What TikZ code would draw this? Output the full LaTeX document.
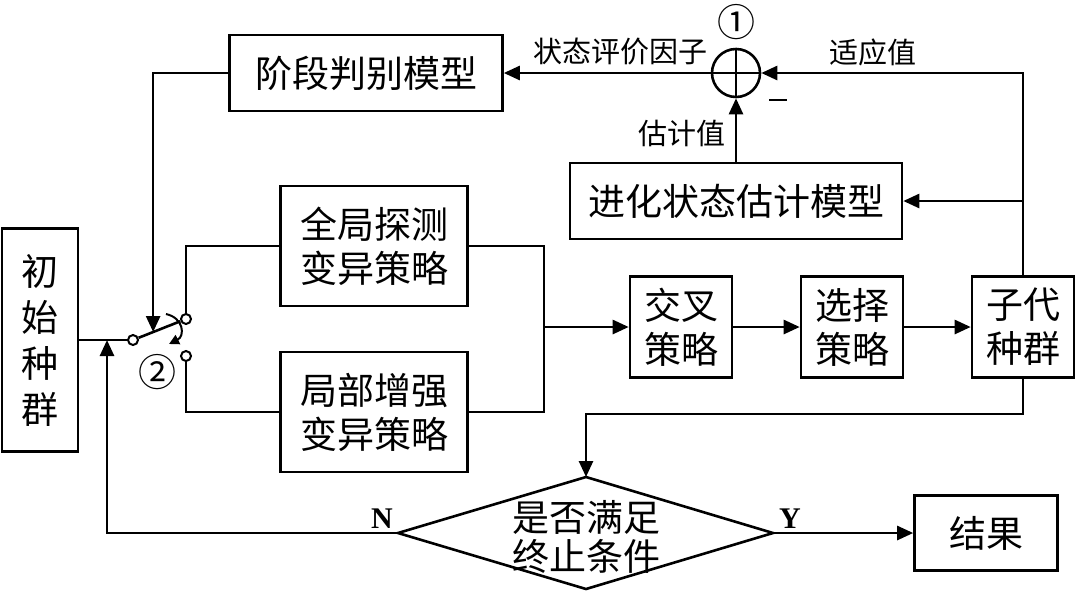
\documentclass[tikz,border=0pt]{standalone}
\usepackage{fontspec}
\setmainfont{Liberation Serif}
\newfontfamily\cjk{Noto Sans CJK SC}
\usetikzlibrary{arrows.meta,calc}

\begin{document}
\begin{tikzpicture}[x=0.5pt,y=-0.5pt,line width=1.3pt,
box/.style={draw,inner sep=0pt,align=center,font=\cjk\fontsize{18.5}{22}\selectfont},
lbl/.style={inner sep=0pt,font=\cjk\fontsize{14.5}{16}\selectfont},
dot/.style={draw,circle,fill=white,inner sep=0pt,minimum size=5pt,line width=1pt},
arr/.style={-{Triangle[length=8pt,width=7pt]}}]
\useasboundingbox (0,0) rectangle (1080,596);
\node[box,minimum width=38pt,minimum height=111.5pt,font=\cjk\fontsize{18.5}{23}\selectfont] (init) at (40,340) {初\\始\\种\\群};
\node[box,minimum width=136.5pt,minimum height=38pt] (stage) at (366,73) {阶段判别模型};
\node[box,minimum width=166pt,minimum height=38pt] (est) at (736,201) {进化状态估计模型};
\node[box,minimum width=93.5pt,minimum height=60pt] (glob) at (374,246) {全局探测\\变异策略};
\node[box,minimum width=93.5pt,minimum height=60pt] (loc) at (374,412) {局部增强\\变异策略};
\node[box,minimum width=51pt,minimum height=50.5pt] (cross) at (681,327) {交叉\\策略};
\node[box,minimum width=51pt,minimum height=50.5pt] (sel) at (852,327) {选择\\策略};
\node[box,minimum width=51pt,minimum height=50.5pt] (off) at (1023,327) {子代\\种群};
\node[box,minimum width=71.5pt,minimum height=37.5pt] (res) at (986,533) {结果};
\node[draw,circle,inner sep=0pt,minimum size=24pt] (sum) at (736,73) {};
\draw (sum.north) -- (sum.south) (sum.west) -- (sum.east);
\node[inner sep=0pt,align=center,font=\cjk\fontsize{18.5}{19.5}\selectfont] (cond) at (586,537) {是否满足\\终止条件};
\coordinate (dT) at (586,477);
\coordinate (dL) at (398,533);
\coordinate (dB) at (586,589);
\coordinate (dR) at (773,533);
\draw (dT) -- (dR) -- (dB) -- (dL) -- cycle;
\node[dot] (piv) at (133,340) {};
\node[dot] (upc) at (186,319) {};
\node[dot] (lowc) at (186,356) {};
\coordinate (bp) at ($(piv)!0.38!(upc)$);
\coordinate (mg) at (544,327);
\coordinate (jn) at (107,340);
\coordinate (ca) at (166,314);
\coordinate (cb) at (169,344);
\node[lbl] (one) at (736,22) {\fontsize{19}{19}\selectfont ①};
\node[lbl] (two) at (157,372) {\fontsize{19}{19}\selectfont ②};
\node[lbl] (fac) at (620,52) {状态评价因子};
\node[lbl] (fit) at (873,52) {适应值};
\node[lbl] (val) at (682,133) {估计值};
\node[inner sep=0pt] (minus) at (778,100) {\rule{9pt}{1.4pt}};
\node[inner sep=0pt,font=\bfseries\fontsize{15}{15}\selectfont] (nlab) at (382,519) {N};
\node[inner sep=0pt,font=\bfseries\fontsize{15}{15}\selectfont] (ylab) at (790,519) {Y};
\draw (init) -- (piv);
\draw (piv) -- (upc);
\draw (upc) |- (glob);
\draw (lowc) |- (loc);
\draw (glob) -| (mg) |- (loc);
\draw[arr] (mg) -- (cross);
\draw[arr] (cross) -- (sel);
\draw[arr] (sel) -- (off);
\draw[arr] (off) |- (sum);
\draw[arr] (off.north |- est) -- (est);
\draw[arr] (est) -- (sum);
\draw[arr] (sum) -- (stage);
\draw[arr] (stage) -| (bp);
\draw[arr] (off.south) -- ++(0,35) -| (dT);
\draw[arr] (dL) -| (jn);
\draw[arr] (dR) -- (res);
\draw[-{Triangle[length=5pt,width=5pt]},line width=1pt] (ca) .. controls (184,318) and (185,336) .. (cb);
\end{tikzpicture}
\end{document}
